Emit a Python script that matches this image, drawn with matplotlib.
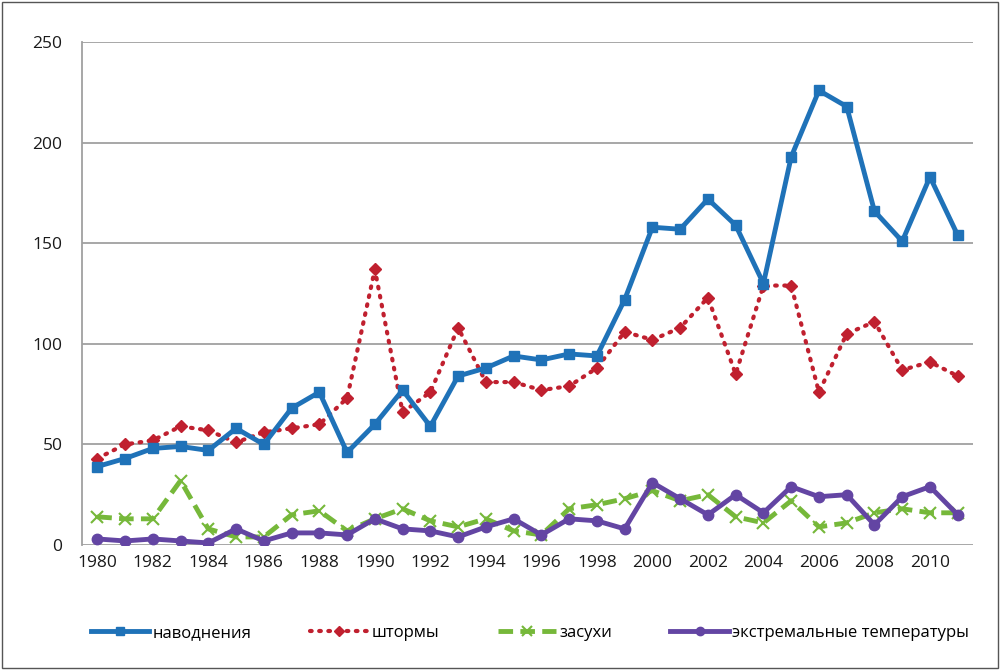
import matplotlib
matplotlib.use("Agg")
import matplotlib.pyplot as plt
from matplotlib.patches import Rectangle

years = list(range(1980, 2012))
floods = [39, 43, 48, 49, 47, 58, 50, 68, 76, 46, 60, 77, 59, 84, 88, 94,
          92, 95, 94, 122, 158, 157, 172, 159, 130, 193, 226, 218, 166, 151, 183, 154]
storms = [43, 50, 52, 59, 57, 51, 56, 58, 60, 73, 137, 66, 76, 108, 81, 81,
          77, 79, 88, 106, 102, 108, 123, 85, 129, 129, 76, 105, 111, 87, 91, 84]
droughts = [14, 13, 13, 32, 8, 4, 4, 15, 17, 7, 13, 18, 12, 9, 13, 7,
            5, 18, 20, 23, 27, 22, 25, 14, 11, 22, 9, 11, 16, 18, 16, 16]
extreme_temps = [3, 2, 3, 2, 1, 8, 2, 6, 6, 5, 13, 8, 7, 4, 9, 13,
                 5, 13, 12, 8, 31, 23, 15, 25, 16, 29, 24, 25, 10, 24, 29, 15]
labels = ["наводнения", "штормы", "засухи", "экстремальные температуры"]
yticks = [0, 50, 100, 150, 200, 250]
xticks = list(range(1980, 2012, 2))

plt.rcParams['font.family'] = ['Open Sans', 'DejaVu Sans']

fig = plt.figure(figsize=(10, 6.7), dpi=100)
ax = fig.add_axes([0.082, 0.1866, 0.891, 0.7504])

ax.plot(years, floods, color='#1f72b8', lw=3.5, marker='s', ms=7.5, label=labels[0], zorder=5)
ax.plot(years, storms, color='#c0202f', lw=3, ls=(0, (0.4, 1.8)), dash_capstyle='round',
        marker='D', ms=6, label=labels[1], zorder=4)
ax.plot(years, droughts, color='#76b83a', lw=3.5, ls=(0, (3, 1.5)), marker='x', ms=9,
        mew=1.5, label=labels[2], zorder=3)
ax.plot(years, extreme_temps, color='#6345a3', lw=3.5, marker='o', ms=7.5, label=labels[3], zorder=6)

ax.set_xlim(1979.45, 2011.55)
ax.set_ylim(0, 250)
ax.set_yticks(yticks)
ax.set_xticks(xticks)
ax.tick_params(axis='both', length=0, labelsize=12.5, colors='#1a1a1a')
ax.tick_params(axis='y', pad=14)
ax.tick_params(axis='x', pad=7)
ax.grid(axis='y', color='#a0a0a0', lw=1.3)
ax.set_axisbelow(True)
for s in ['top', 'right']:
    ax.spines[s].set_visible(False)
ax.spines['bottom'].set_visible(False)
ax.spines['left'].set_color('#a0a0a0')
ax.spines['left'].set_linewidth(1.3)

leg = fig.legend(loc='center', bbox_to_anchor=(0.53, 0.055), ncol=4, frameon=False,
                 fontsize=12, handlelength=3.5, handletextpad=0.2, columnspacing=3.5,
                 markerscale=0.8)

fig.add_artist(Rectangle((0.002, 0.003), 0.996, 0.994, transform=fig.transFigure,
                         fill=False, edgecolor='#555555', lw=1))

fig.savefig('out.png', dpi=100)
